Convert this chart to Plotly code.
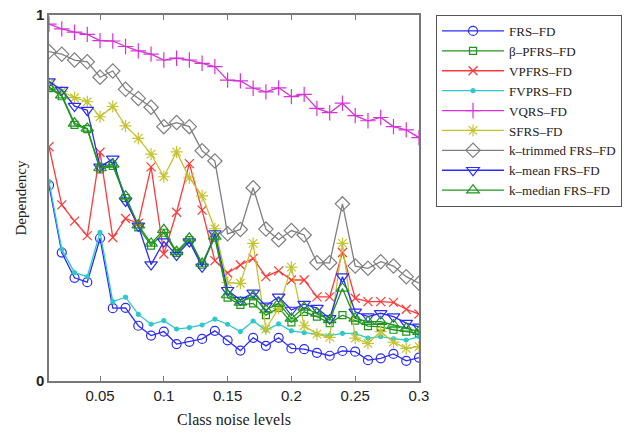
import plotly.graph_objects as go

x = [round(0.01 * i, 2) for i in range(1, 31)]

frs = [0.535,0.351,0.282,0.270,0.390,0.199,0.200,0.151,0.124,0.135,0.101,0.107,0.115,0.137,0.111,0.083,0.118,0.096,0.118,0.089,0.087,0.077,0.069,0.082,0.080,0.057,0.062,0.074,0.055,0.064]
bpfrs = [0.800,0.778,0.700,0.688,0.578,0.588,0.500,0.420,0.370,0.405,0.350,0.385,0.318,0.392,0.228,0.208,0.212,0.180,0.200,0.160,0.189,0.176,0.158,0.180,0.165,0.150,0.148,0.140,0.135,0.130]
vpfrs = [0.640,0.481,0.437,0.397,0.625,0.392,0.444,0.431,0.585,0.347,0.461,0.594,0.467,0.329,0.295,0.317,0.335,0.285,0.301,0.276,0.276,0.230,0.230,0.351,0.226,0.217,0.217,0.215,0.196,0.183]
fvprs = [0.545,0.360,0.296,0.285,0.406,0.217,0.229,0.182,0.155,0.165,0.142,0.146,0.153,0.169,0.155,0.135,0.164,0.139,0.156,0.137,0.132,0.128,0.124,0.130,0.130,0.117,0.121,0.115,0.112,0.121]
vqrs = [0.975,0.962,0.953,0.947,0.930,0.929,0.914,0.902,0.893,0.877,0.882,0.877,0.868,0.859,0.822,0.820,0.800,0.790,0.801,0.777,0.783,0.745,0.733,0.759,0.725,0.711,0.720,0.695,0.686,0.665]
sfrs = [0.813,0.791,0.774,0.763,0.722,0.750,0.697,0.663,0.620,0.558,0.626,0.555,0.506,0.416,0.269,0.267,0.376,0.142,0.199,0.311,0.151,0.128,0.119,0.376,0.117,0.103,0.135,0.106,0.089,0.094]
ktrim = [0.900,0.893,0.877,0.872,0.830,0.847,0.797,0.772,0.748,0.695,0.706,0.695,0.629,0.601,0.402,0.414,0.528,0.415,0.386,0.411,0.399,0.323,0.323,0.484,0.314,0.308,0.326,0.314,0.285,0.267]
kmean = [0.818,0.795,0.751,0.740,0.585,0.607,0.492,0.424,0.318,0.381,0.344,0.381,0.312,0.403,0.248,0.221,0.241,0.205,0.230,0.194,0.210,0.199,0.171,0.285,0.189,0.176,0.185,0.176,0.158,0.148]
kmedian = [0.803,0.781,0.704,0.690,0.582,0.592,0.505,0.426,0.376,0.413,0.353,0.390,0.321,0.395,0.235,0.215,0.232,0.194,0.212,0.171,0.201,0.185,0.167,0.253,0.171,0.162,0.162,0.153,0.144,0.135]

names = ["FRS–FD", "β–PFRS–FD", "VPFRS–FD", "FVPRS–FD", "VQRS–FD", "SFRS–FD",
         "k–trimmed FRS–FD", "k–mean FRS–FD", "k–median FRS–FD"]
series = [frs, bpfrs, vpfrs, fvprs, vqrs, sfrs, ktrim, kmean, kmedian]
colors = ["#2b2bff", "#1e961e", "#ff3838", "#2ec8c8", "#d633d6", "#c4c430", "#7f7f7f", "#2b2bff", "#1e961e"]
symbols = ["circle-open", "square-open", "x-thin-open", "circle", "cross-thin-open",
           "asterisk-open", "diamond-open", "triangle-down-open", "triangle-up-open"]
sizes = [9, 7, 9, 4, 11, 10, 11, 11, 11]

fig = go.Figure()
for n, s, c, sym, sz in zip(names, series, colors, symbols, sizes):
    fig.add_trace(go.Scatter(
        x=x, y=s, name=n, mode="lines+markers",
        line=dict(color=c, width=1.3),
        marker=dict(symbol=sym, size=sz, color=c, line=dict(color=c, width=1.2)),
    ))

fig.update_layout(
    width=642, height=433,
    margin=dict(l=49, r=223, t=15, b=52),
    plot_bgcolor="white", paper_bgcolor="white",
    font=dict(family="Liberation Serif", size=14, color="#222"),
    legend=dict(
        x=1.046, y=1.0, xanchor="left", yanchor="top",
        bordercolor="#555", borderwidth=1,
        font=dict(family="Liberation Serif", size=13, color="#222"),
        itemwidth=62, tracegroupgap=0,
    ),
    xaxis=dict(
        range=[0.01, 0.3], tickvals=[0.05, 0.1, 0.15, 0.2, 0.25, 0.3],
        ticktext=["0.05", "0.1", "0.15", "0.2", "0.25", "0.3"],
        ticks="inside", ticklen=5, tickcolor="#777",
        showline=True, linecolor="#777", linewidth=1.5, mirror="ticks",
        showgrid=False, zeroline=False, automargin=False,
        tickfont=dict(family="Liberation Sans", size=15, color="#222"),
        title=dict(text="Class noise levels", standoff=11,
                   font=dict(family="Liberation Serif", size=16, color="#222")),
    ),
    yaxis=dict(
        range=[0, 1], tickvals=[0, 1], ticktext=["<b>0</b>", "<b>1</b>"],
        ticks="", showline=True, linecolor="#777", linewidth=1.5, mirror=True,
        showgrid=False, zeroline=False, automargin=False,
        tickfont=dict(family="Liberation Sans", size=15, color="#222"),
        title=dict(text="Dependency", standoff=6,
                   font=dict(family="Liberation Serif", size=15, color="#222")),
    ),
)

fig.write_html("out.html")
